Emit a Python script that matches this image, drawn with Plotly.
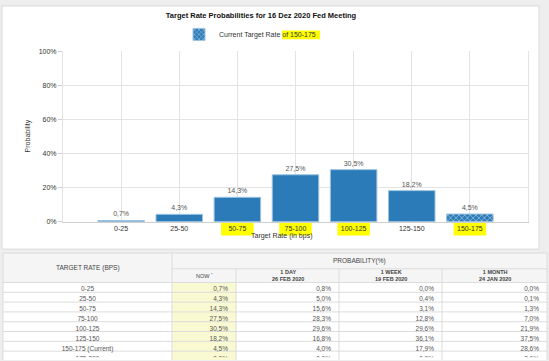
import plotly.graph_objects as go

# ---------------- data ----------------
categories = ["0-25", "25-50", "50-75", "75-100", "100-125", "125-150", "150-175"]
now_probs = [0.7, 4.3, 14.3, 27.5, 30.5, 18.2, 4.5]
current_rate = "150-175"
highlighted = ["50-75", "75-100", "100-125", "150-175"]

table_rates = ["0-25", "25-50", "50-75", "75-100", "100-125", "125-150",
               "150-175 (Current)", "175-200"]
table_now = [0.7, 4.3, 14.3, 27.5, 30.5, 18.2, 4.5, 0.0]
table_1day = [0.8, 5.0, 15.6, 28.3, 29.6, 16.8, 4.0, 0.0]
table_1week = [0.0, 0.4, 3.1, 12.8, 29.6, 36.1, 17.9, 0.0]
table_1month = [0.0, 0.1, 1.3, 7.0, 21.9, 37.5, 28.6, 3.6]
table_headers = ["", "NOW <sup>*</sup>", "<b>1 DAY</b><br><b>26 FEB 2020</b>",
                 "<b>1 WEEK</b><br><b>19 FEB 2020</b>", "<b>1 MONTH</b><br><b>24 JAN 2020</b>"]
table_top_header = ["TARGET RATE (BPS)", "PROBABILITY(%)"]

title_text = "Target Rate Probabilities for 16 Dez 2020 Fed Meeting"
legend_text = "Current Target Rate of 150-175"

# ---------------- style ----------------
W, H = 549, 361
FONT = "Liberation Sans, Arial, sans-serif"
BLUE = "#2b7bb9"
GRID = "#e3e3e3"
HDR = "#f5f5f5"
BORDER = "#dcdcdc"
YELLOW = "#ffff00"
NOWFILL = "#fafad2"
CLEAR = "rgba(0,0,0,0)"

TABLE_X0, TABLE_X1 = 3, 547
COL_W = [169, 64, 103, 103, 105]
HDR_TOP, HDR_MID, HDR_BOT = 254, 270, 284
ROW_H = 10
TEXT_SHIFT = 4.5   # plotly places cell text below the cell top; lift the text layer


def px_x(p):
    return p / W


def px_y(p):
    return 1 - p / H


def fmt(v):
    return f"{v:.1f}%".replace(".", ",")


reg_x = [c for c in categories if c != current_rate]
reg_y = [v for c, v in zip(categories, now_probs) if c != current_rate]
cur_y = [v for c, v in zip(categories, now_probs) if c == current_rate]

fig = go.Figure()
fig.add_trace(go.Bar(
    x=reg_x, y=reg_y, marker=dict(color=BLUE, line=dict(color="#9cc3e0", width=1)),
    text=[fmt(v) for v in reg_y], textposition="outside",
    textfont=dict(size=7, color="#555", family=FONT), cliponaxis=False,
    showlegend=False, hoverinfo="skip"))
fig.add_trace(go.Bar(
    x=[current_rate], y=cur_y, name=legend_text,
    marker=dict(color=BLUE, line=dict(color="#9cc3e0", width=1),
                pattern=dict(shape="x", fgcolor="white", bgcolor=BLUE, size=4, solidity=0.35)),
    text=[fmt(v) for v in cur_y], textposition="outside",
    textfont=dict(size=7, color="#555", family=FONT), cliponaxis=False,
    showlegend=True, hoverinfo="skip"))

fig.add_trace(go.Table(
    domain=dict(x=[px_x(TABLE_X0), px_x(TABLE_X1)], y=[0, px_y(HDR_MID - TEXT_SHIFT)]),
    columnwidth=COL_W,
    header=dict(values=[""] * len(COL_W), height=HDR_BOT - HDR_MID, fill_color=CLEAR,
                line=dict(color=CLEAR, width=0), align="center",
                font=dict(size=5, color="#444", family=FONT)),
    cells=dict(values=[table_rates, [fmt(v) for v in table_now], [fmt(v) for v in table_1day],
                       [fmt(v) for v in table_1week], [fmt(v) for v in table_1month]],
               height=ROW_H, fill_color=CLEAR,
               line=dict(color=CLEAR, width=0),
               align=["center", "right", "right", "right", "right"],
               font=dict(size=6.5, color="#555", family=FONT))))

# column edges of the table (pixels)
edges = [TABLE_X0]
for w in COL_W:
    edges.append(edges[-1] + w * (TABLE_X1 - TABLE_X0) / sum(COL_W))
n_rows = len(table_rates)
row_lines = [HDR_BOT + ROW_H * k for k in range(n_rows + 1)]
TBOT = min(H + 2, row_lines[-1])

shapes = [
    # chart card
    dict(type="rect", xref="paper", yref="paper", x0=px_x(2), x1=px_x(539), y0=px_y(250), y1=px_y(2),
         fillcolor="white", line=dict(color="#d9d9d9", width=1), layer="below"),
    # legend highlight
    dict(type="rect", xref="paper", yref="paper", x0=px_x(282), x1=px_x(320), y0=px_y(36), y1=px_y(27),
         fillcolor=YELLOW, line=dict(width=0), layer="below"),
    # table backgrounds
    dict(type="rect", xref="paper", yref="paper", x0=px_x(TABLE_X0), x1=px_x(TABLE_X1),
         y0=px_y(HDR_BOT), y1=px_y(HDR_TOP), fillcolor=HDR, line=dict(width=0), layer="below"),
    dict(type="rect", xref="paper", yref="paper", x0=px_x(TABLE_X0), x1=px_x(TABLE_X1),
         y0=px_y(TBOT), y1=px_y(HDR_BOT), fillcolor="white", line=dict(width=0), layer="below"),
    dict(type="rect", xref="paper", yref="paper", x0=px_x(edges[1]), x1=px_x(edges[2]),
         y0=px_y(TBOT), y1=px_y(HDR_BOT), fillcolor=NOWFILL, line=dict(width=0), layer="below"),
]


def hline(y, xa, xb):
    return dict(type="line", xref="paper", yref="paper", x0=px_x(xa), x1=px_x(xb),
                y0=px_y(y), y1=px_y(y), line=dict(color=BORDER, width=1), layer="below")


def vline(x, ya, yb):
    return dict(type="line", xref="paper", yref="paper", x0=px_x(x), x1=px_x(x),
                y0=px_y(ya), y1=px_y(yb), line=dict(color=BORDER, width=1), layer="below")


shapes.append(hline(HDR_TOP, edges[0], edges[-1]))
shapes.append(hline(HDR_MID, edges[1], edges[-1]))
for y in row_lines:
    if y <= H:
        shapes.append(hline(y, edges[0], edges[-1]))
for j, x in enumerate(edges):
    top = HDR_MID if j in (2, 3, 4) else HDR_TOP
    shapes.append(vline(x, top, TBOT))

for c in highlighted:
    i = categories.index(c)
    shapes.append(dict(type="rect", xref="x", yref="paper", x0=i - 0.28, x1=i + 0.28,
                       y0=px_y(236), y1=px_y(223), fillcolor=YELLOW, line=dict(width=0), layer="below"))

annotations = [
    dict(text="Probability", xref="paper", yref="paper", x=px_x(28), y=px_y(135), textangle=-90,
         xanchor="center", yanchor="middle",
         showarrow=False, font=dict(size=7, color="#333", family=FONT)),
    dict(text="Target Rate (in bps)", xref="paper", yref="paper", x=px_x(281), y=px_y(237),
         xanchor="center", yanchor="middle",
         showarrow=False, font=dict(size=7, color="#333", family=FONT)),
    dict(text=table_top_header[0], xref="paper", yref="paper",
         x=px_x((edges[0] + edges[1]) / 2), y=px_y((HDR_TOP + HDR_BOT) / 2),
         xanchor="center", yanchor="middle",
         showarrow=False, font=dict(size=6.5, color="#444", family=FONT)),
    dict(text=table_top_header[1], xref="paper", yref="paper",
         x=px_x((edges[1] + edges[-1]) / 2), y=px_y((HDR_TOP + HDR_MID) / 2),
         xanchor="center", yanchor="middle",
         showarrow=False, font=dict(size=6.5, color="#444", family=FONT)),
]
for j in range(1, len(COL_W)):
    annotations.append(dict(text=table_headers[j], xref="paper", yref="paper",
                            x=px_x((edges[j] + edges[j + 1]) / 2), y=px_y((HDR_MID + HDR_BOT) / 2),
                            xanchor="center", yanchor="middle", showarrow=False,
                            font=dict(size=5.5, color="#444", family=FONT)))

fig.update_layout(
    width=W, height=H, margin=dict(l=0, r=0, t=0, b=0),
    paper_bgcolor="#eeeeee", plot_bgcolor="white",
    font=dict(family=FONT, size=7, color="#333"),
    title=dict(text="<b>" + title_text + "</b>", x=px_x(261), xanchor="center",
               y=px_y(15), yanchor="middle", font=dict(size=7.5, color="#111", family=FONT)),
    barmode="overlay", bargap=0.2,
    showlegend=True,
    legend=dict(orientation="h", x=px_x(250), xanchor="center", y=px_y(31), yanchor="middle",
                bgcolor="rgba(0,0,0,0)", font=dict(size=7, color="#333", family=FONT),
                itemwidth=30),
    xaxis=dict(domain=[px_x(63), px_x(528)], type="category", categoryorder="array",
               categoryarray=categories, range=[-1, 7], showgrid=True, gridcolor=GRID,
               showline=True, linecolor="#cfcfcf", ticks="", tickfont=dict(size=7, color="#333"),
               fixedrange=True),
    yaxis=dict(domain=[px_y(222), px_y(48)], range=[0, 100], dtick=20, ticksuffix="%",
               showgrid=True, gridcolor=GRID, showline=True, mirror=True, linecolor=GRID,
               ticks="outside", ticklen=4, tickcolor="#cfcfcf", tickfont=dict(size=7, color="#333"),
               zeroline=False, fixedrange=True),
    shapes=shapes, annotations=annotations,
)

fig.write_html("out.html", config={"displayModeBar": False},
               post_script="document.body.style.margin='0px';")
